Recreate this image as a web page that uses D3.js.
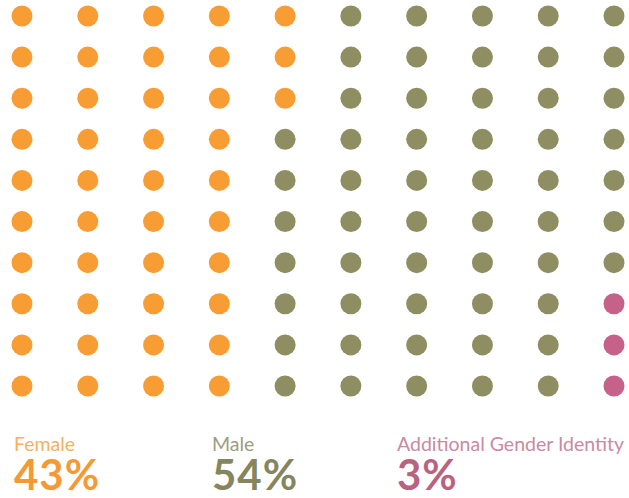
<!DOCTYPE html>
<html>
<head>
<meta charset="utf-8">
<script src="https://cdnjs.cloudflare.com/ajax/libs/d3/7.8.5/d3.min.js"></script>
<style>
	body { margin: 0; background: #fff; }
	text { font-family: Lato, "Open Sans", sans-serif; }
</style>
</head>
<body>
<div id="canvas"></div>
<script>
var categories = ["Female", "Male", "Additional Gender Identity"];
var counts = [43, 54, 3];
var percentLabels = ["43%", "54%", "3%"];
var dotColors = ["#f89d34", "#8e8e62", "#c6618a"];
var nameColors = ["#f3b163", "#9c9c80", "#c98aa2"];
var pctColors = ["#f39a37", "#86865e", "#b9647f"];

var w = 629, h = 498;
var svg = d3.select("#canvas")
	.append("svg")
	.attr("width", w)
	.attr("height", h);

// one dot per percent, filled column by column, top to bottom
var dots = [];
categories.forEach(function(c, ci){
	for(var k = 0; k < counts[ci]; k++){
		dots.push({cat: ci});
	}
});
dots.forEach(function(d, i){
	d.col = Math.floor(i / 10);
	d.row = i % 10;
});

var xScale = d3.scalePoint()
	.domain(d3.range(10))
	.range([22, 614]);

var yScale = d3.scalePoint()
	.domain(d3.range(10))
	.range([16, 386]);

svg.selectAll(".dot")
	.data(dots)
	.enter()
	.append("circle")
	.attr("class", "dot")
	.attr("cx", function(d){ return xScale(d.col); })
	.attr("cy", function(d){ return yScale(d.row); })
	.attr("r", 10.5)
	.attr("fill", function(d){ return dotColors[d.cat]; });

var labelX = d3.scaleOrdinal()
	.domain(categories)
	.range([14, 212, 397]);

var legend = svg.selectAll(".legend")
	.data(categories)
	.enter()
	.append("g")
	.attr("class", "legend")
	.attr("transform", function(d){ return "translate(" + labelX(d) + ",0)"; });

legend.append("text")
	.attr("x", 0)
	.attr("y", 451)
	.attr("font-size", 19.5)
	.attr("fill", function(d, i){ return nameColors[i]; })
	.text(function(d){ return d; });

legend.append("text")
	.attr("x", 0)
	.attr("y", 490)
	.attr("font-size", 42)
	.attr("font-weight", 700)
	.attr("letter-spacing", 1)
	.attr("fill", function(d, i){ return pctColors[i]; })
	.text(function(d, i){ return percentLabels[i]; });
</script>
</body>
</html>
